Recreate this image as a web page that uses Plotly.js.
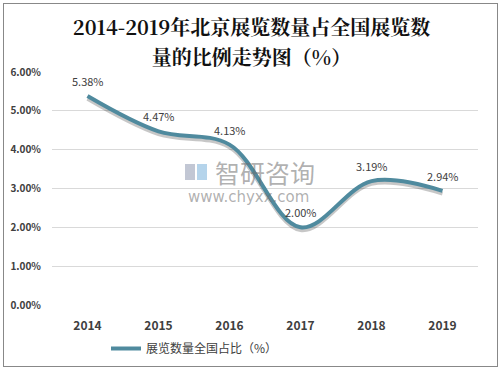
<!DOCTYPE html>
<html><head><meta charset="utf-8">
<script src="https://cdn.plot.ly/plotly-3.0.1.min.js"></script>
<style>body{margin:0;background:#fff}#c{width:503px;height:370px}</style>
</head><body><div id="c"></div>
<script>
const years = ['2014','2015','2016','2017','2018','2019'];
const shares = [5.38, 4.47, 4.13, 2.00, 3.19, 2.94];
const seriesName = '展览数量全国占比（%）';
const yTicks = [0,1,2,3,4,5,6];
const yTickText = yTicks.map(v => v.toFixed(2) + '%');

const lineColor = '#4f8a9e';
const font = 'Noto Sans CJK SC, sans-serif';

const traces = [
  {x: years, y: shares.map(v => v - 0.07), type: 'scatter', mode: 'lines',
   line: {shape: 'spline', smoothing: 1.0, color: 'rgba(0,0,0,0.22)', width: 4},
   hoverinfo: 'skip', showlegend: false},
  {x: years, y: shares, type: 'scatter', mode: 'lines', name: seriesName,
   line: {shape: 'spline', smoothing: 1.0, color: lineColor, width: 4}}
];

const annotations = years.map((yr, i) => ({
  x: i, y: shares[i], xref: 'x', yref: 'y', text: shares[i].toFixed(2) + '%',
  showarrow: false, yshift: 15, font: {family: font, size: 11, color: '#404040'}
}));
annotations.push({xref: 'paper', yref: 'paper', x: (265 - 52) / 426, y: (305 - 172) / 233, text: '智研咨询',
  showarrow: false, font: {family: font, size: 25, color: 'rgba(110,110,110,0.55)'}});
annotations.push({xref: 'paper', yref: 'paper', x: (248 - 52) / 426, y: (305 - 197) / 233, text: 'www.chyxx.com',
  showarrow: false, font: {family: 'DejaVu Sans, sans-serif', size: 15, color: 'rgba(110,110,110,0.55)'}});

const layout = {
  width: 503, height: 370,
  margin: {l: 52, r: 25, t: 72, b: 65},
  paper_bgcolor: '#fff', plot_bgcolor: '#fff',
  title: {text: '<b><span style="font-size:20px">2014-2019年北京展览数量占全国展览数</span><br><span style="font-size:20px">量的比例走势图（%）</span></b>',
    font: {family: 'Noto Serif CJK SC, Noto Sans CJK SC, serif', size: 23, color: '#111'},
    x: 0.5, xanchor: 'center', y: 0.905, yanchor: 'middle', yref: 'container', automargin: false},
  xaxis: {type: 'category', range: [-0.5, 5.5], showgrid: false, zeroline: false, automargin: false,
    showline: false, ticks: '', ticklabelstandoff: 12,
    tickfont: {family: font, size: 12, color: '#404040', weight: 'bold'}},
  yaxis: {range: [0, 6], tickvals: yTicks, ticktext: yTickText, showgrid: true, automargin: false,
    gridcolor: '#d9d9d9', gridwidth: 1, zeroline: false, showline: false, ticks: '',
    ticklabelstandoff: 10,
    tickfont: {family: font, size: 10, color: '#404040', weight: 'bold'}},
  showlegend: true,
  legend: {orientation: 'h', x: (106 - 52) / 426, xanchor: 'left', yref: 'container', y: 36 / 370, yanchor: 'top',
    font: {family: font, size: 12, color: '#404040'}},
  annotations: annotations,
  shapes: [
    {type: 'rect', xref: 'paper', yref: 'paper', x0: (185 - 52) / 426, x1: (195 - 52) / 426,
     y0: (305 - 180) / 233, y1: (305 - 164) / 233, line: {width: 0}, fillcolor: 'rgba(120,130,160,0.45)'},
    {type: 'rect', xref: 'paper', yref: 'paper', x0: (197 - 52) / 426, x1: (207 - 52) / 426,
     y0: (305 - 180) / 233, y1: (305 - 164) / 233, line: {width: 0}, fillcolor: 'rgba(90,160,210,0.45)'}
  ]
};
Plotly.newPlot('c', traces, layout, {staticPlot: true});
</script>
<div style="position:absolute;left:3px;top:3px;width:493px;height:362px;border:1px solid #888;pointer-events:none"></div>
</body></html>
